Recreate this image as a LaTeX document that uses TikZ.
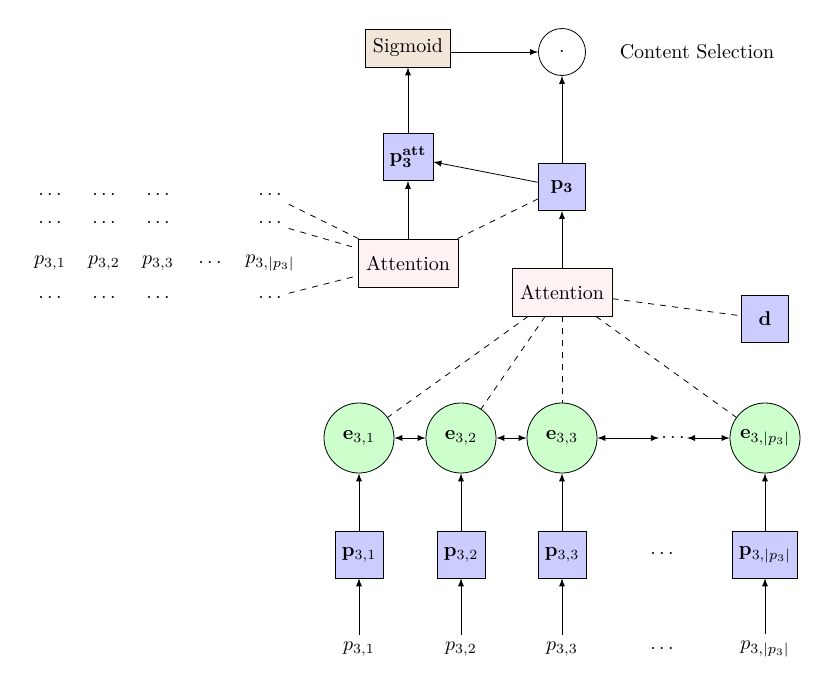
\documentclass[tikz,border=0pt]{standalone}
\usetikzlibrary{arrows}
\begin{document}
\begin{tikzpicture}[x=0.5pt,y=-0.5pt,
  vec/.style={draw, fill=blue!20, minimum width=23.5pt, minimum height=23.5pt},
  attbox/.style={draw, fill=red!5, minimum width=50pt, minimum height=24pt},
  sigbox/.style={draw, fill=brown!20, minimum width=42.5pt, minimum height=19pt},
  enc/.style={circle, draw, fill=green!20, minimum size=35pt, inner sep=0pt},
  prod/.style={circle, draw, minimum size=23.5pt, inner sep=0pt},
  arr/.style={-latex},
  biarr/.style={latex-latex},
  dline/.style={dashed}]
\useasboundingbox (0,0) rectangle (830,691);

% top
\node[sigbox] (sig) at (408,48) {Sigmoid};
\node[prod] (dot) at (562,52) {$\cdot$};
\node (cs) at (697,52) {Content Selection};
\node[vec] (patt) at (408,157) {$\mathbf{p_3^{att}}$};
\node[vec] (p3) at (562,187) {$\mathbf{p_3}$};
\node[attbox] (att1) at (408,263) {Attention};
\node[attbox] (att2) at (562,292) {Attention};
\node[vec] (d) at (765,319) {$\mathbf{d}$};

\draw[arr] (sig.east |- dot) -- (dot);
\draw[arr] (patt) -- (sig);
\draw[arr] (p3) -- (dot);
\draw[arr] (p3) -- (patt);
\draw[arr] (att1) -- (patt);
\draw[arr] (att2) -- (p3);
\draw[dline] (att1) -- (p3);
\draw[dline] (att2) -- (d);

% left grid
\node (g11) at (50,195) {$\cdots$};
\node (g12) at (104,195) {$\cdots$};
\node (g13) at (158,195) {$\cdots$};
\node (g15) at (270,195) {$\cdots$};
\node (g21) at (50,223) {$\cdots$};
\node (g22) at (104,223) {$\cdots$};
\node (g23) at (158,223) {$\cdots$};
\node (g25) at (270,223) {$\cdots$};
\node (g31) at (50,263) {$p_{3,1}$};
\node (g32) at (104,263) {$p_{3,2}$};
\node (g33) at (158,263) {$p_{3,3}$};
\node (g34) at (210,263) {$\cdots$};
\node (g35) at (270,263) {$p_{3,|p_3|}$};
\node (g41) at (50,298) {$\cdots$};
\node (g42) at (104,298) {$\cdots$};
\node (g43) at (158,298) {$\cdots$};
\node (g45) at (270,298) {$\cdots$};
\draw[dline] (g15) -- (att1);
\draw[dline] (g25) -- (att1);
\draw[dline] (g45) -- (att1);

% encoder row
\node[enc] (e1) at (359,438) {$\mathbf{e}_{3,1}$};
\node[enc] (e2) at (461,438) {$\mathbf{e}_{3,2}$};
\node[enc] (e3) at (562,438) {$\mathbf{e}_{3,3}$};
\node[inner sep=1pt] (ed) at (673,438) {$\cdots$};
\node[enc] (ep) at (765,438) {$\mathbf{e}_{3,|p_3|}$};
\draw[biarr] (e1) -- (e2);
\draw[biarr] (e2) -- (e3);
\draw[biarr] (e3) -- (ed);
\draw[biarr] (ed) -- (ep);
\draw[dline] (att2) -- (e1);
\draw[dline] (att2) -- (e2);
\draw[dline] (att2) -- (e3);
\draw[dline] (att2) -- (ep);

% p boxes
\node[vec] (b1) at (359,554.5) {$\mathbf{p}_{3,1}$};
\node[vec] (b2) at (461,554.5) {$\mathbf{p}_{3,2}$};
\node[vec] (b3) at (562,554.5) {$\mathbf{p}_{3,3}$};
\node (bd) at (662,554.5) {$\cdots$};
\node[vec] (bp) at (765,554.5) {$\mathbf{p}_{3,|p_3|}$};
\draw[arr] (b1) -- (e1);
\draw[arr] (b2) -- (e2);
\draw[arr] (b3) -- (e3);
\draw[arr] (bp) -- (ep);

% inputs
\node (i1) at (359,649) {$p_{3,1}$};
\node (i2) at (461,649) {$p_{3,2}$};
\node (i3) at (562,649) {$p_{3,3}$};
\node (id) at (662,649) {$\cdots$};
\node (ip) at (765,649) {$p_{3,|p_3|}$};
\draw[arr] (i1) -- (b1);
\draw[arr] (i2) -- (b2);
\draw[arr] (i3) -- (b3);
\draw[arr] (ip) -- (bp);
\end{tikzpicture}
\end{document}
